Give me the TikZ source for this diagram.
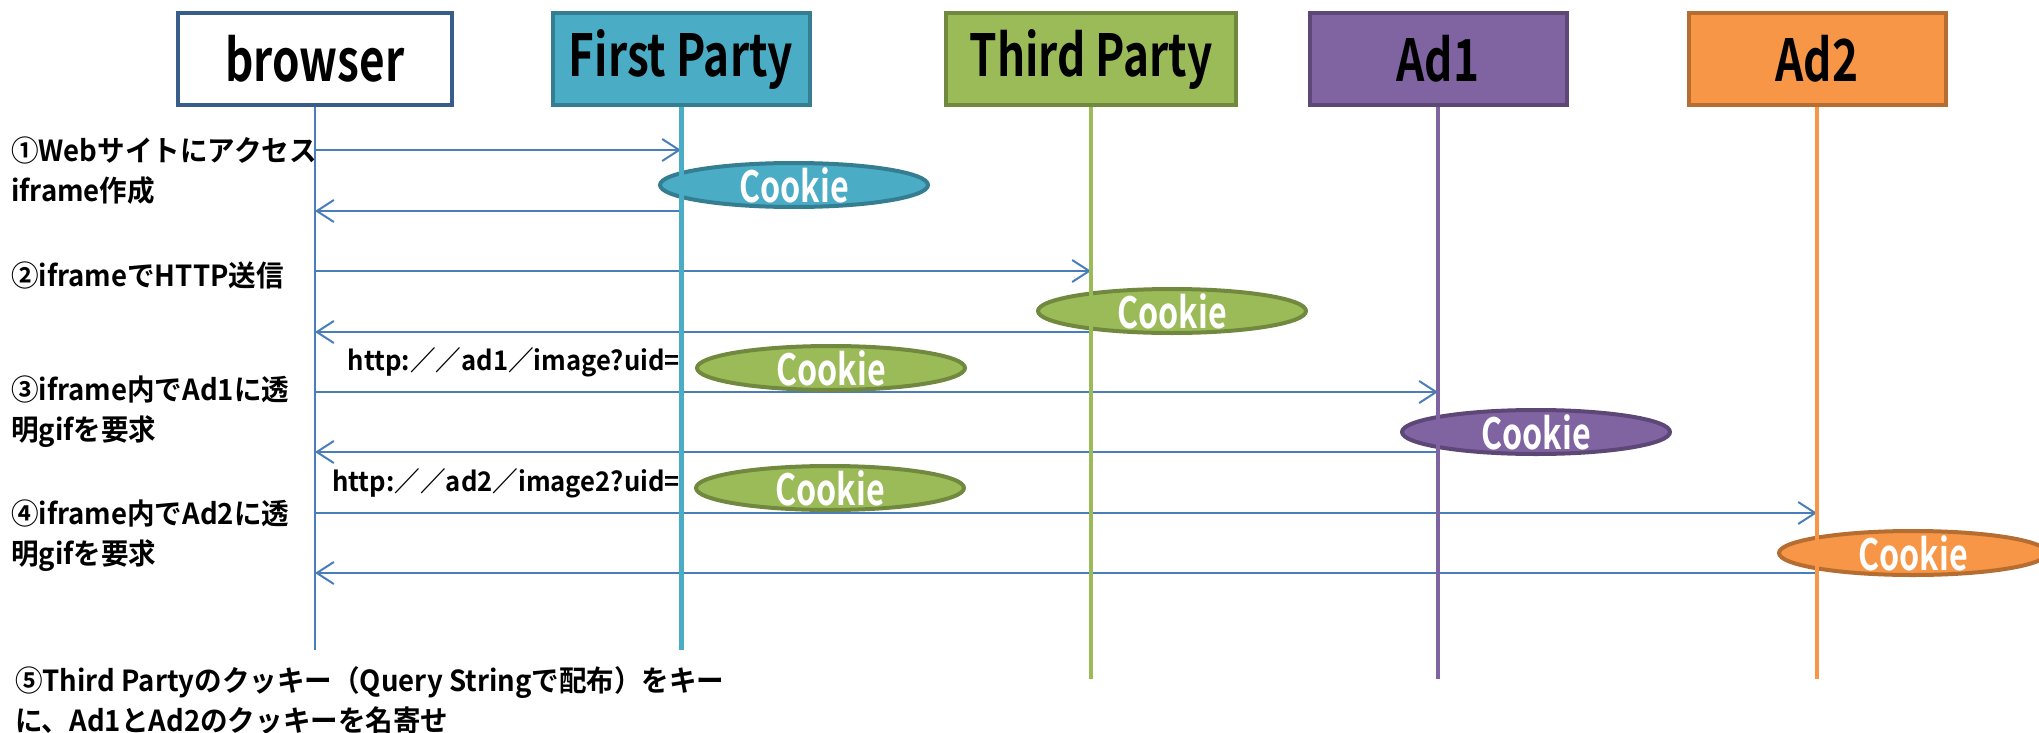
\documentclass[tikz,border=0pt]{standalone}
\usepackage{fontspec}
\setmainfont{Noto Sans CJK JP}
\newfontfamily\jpb{Noto Sans CJK JP Bold}[FakeStretch=0.95]
\newfontfamily\jpc{Noto Sans CJK JP Bold}[FakeStretch=0.76]
\newfontfamily\jpk{Noto Sans CJK JP Bold}[FakeStretch=0.75]
\usetikzlibrary{arrows.meta,shapes.geometric}
\definecolor{brB}{HTML}{385D8A}
\definecolor{msgC}{HTML}{4A7EBB}
\definecolor{fpF}{HTML}{4BACC6}
\definecolor{fpB}{HTML}{357D91}
\definecolor{tpF}{HTML}{9BBB59}
\definecolor{tpB}{HTML}{71893F}
\definecolor{a1F}{HTML}{8064A2}
\definecolor{a1B}{HTML}{5C4776}
\definecolor{a2F}{HTML}{F79646}
\definecolor{a2B}{HTML}{B66D31}
\tikzset{
  hdr/.style={rectangle, line width=4pt, minimum height=92pt, inner sep=0pt,
    font=\jpc\fontsize{58}{60}\selectfont},
  life/.style={line width=4pt},
  msg/.style={draw=msgC, line width=2pt, -{Straight Barb[length=17pt,width=22pt]}},
  cookie/.style={ellipse, line width=4pt, minimum width=268pt, minimum height=44pt, inner sep=0pt},
  cktext/.style={text=white, font=\jpk\fontsize{43}{44}\selectfont, inner sep=0pt},
  lbl/.style={anchor=west, align=left, inner sep=0pt, font=\jpb\fontsize{29}{40}\selectfont},
  url/.style={anchor=east, inner sep=0pt, font=\jpb\fontsize{27}{30}\selectfont},
}
\begin{document}
\begin{tikzpicture}[x=1pt,y=-1pt]
\useasboundingbox (0,0) rectangle (2039,733);
% headers
\node[hdr, fill=white, draw=brB, minimum width=274pt] (br) at (315,59) {browser};
\node[hdr, fill=fpF, draw=fpB, minimum width=257pt] (fp) at (681,59) {First Party};
\node[hdr, fill=tpF, draw=tpB, minimum width=290pt] (tp) at (1091,59) {Third Party};
\node[hdr, fill=a1F, draw=a1B, minimum width=257pt] (a1) at (1438,59) {Ad1};
\node[hdr, fill=a2F, draw=a2B, minimum width=257pt] (a2) at (1817,59) {Ad2};
% lifeline ends
\coordinate (brE) at (315,650);
\coordinate (fpE) at (681,650);
\coordinate (tpE) at (1091,679);
\coordinate (a1E) at (1438,679);
\coordinate (a2E) at (1817,679);
% message points
\coordinate (b1) at (315,150);   \coordinate (f1) at (681,150);
\coordinate (b2) at (315,211);   \coordinate (f2) at (681,211);
\coordinate (b3) at (315,271);   \coordinate (t3) at (1091,271);
\coordinate (b4) at (315,332);   \coordinate (t4) at (1091,332);
\coordinate (b5) at (315,392);   \coordinate (d5) at (1438,392);
\coordinate (b6) at (315,452);   \coordinate (d6) at (1438,452);
\coordinate (b7) at (315,513);   \coordinate (e7) at (1817,513);
\coordinate (b8) at (315,573);   \coordinate (e8) at (1817,573);
% messages
\draw[msg] (b1) -- (f1);
\draw[msg] (f2) -- (b2);
\draw[msg] (b3) -- (t3);
\draw[msg] (t4) -- (b4);
\draw[msg] (b5) -- (d5);
\draw[msg] (d6) -- (b6);
\draw[msg] (b7) -- (e7);
\draw[msg] (e8) -- (b8);
% cookies
\node[cookie, fill=fpF, draw=fpB, label={[cktext]center:Cookie}] (c1) at (794,185) {};
\node[cookie, fill=tpF, draw=tpB, label={[cktext]center:Cookie}] (c2) at (1172,311) {};
\node[cookie, fill=tpF, draw=tpB, label={[cktext]center:Cookie}] (c3) at (831,368) {};
\node[cookie, fill=tpF, draw=tpB, label={[cktext]center:Cookie}] (c4) at (830,488) {};
\node[cookie, fill=a1F, draw=a1B, label={[cktext]center:Cookie}] (c5) at (1536,432) {};
\node[cookie, fill=a2F, draw=a2B, label={[cktext]center:Cookie}] (c6) at (1913,553) {};
% lifelines
\draw[life, draw=msgC, line width=2pt] (br.south) -- (brE);
\draw[life, draw=fpF, line width=5pt] (fp.south) -- (fpE);
\draw[life, draw=tpF] (tp.south) -- (tpE);
\draw[life, draw=a1F] (a1.south) -- (a1E);
\draw[life, draw=a2F] (a2.south) -- (a2E);
% urls
\node[url] (u1) at (680,362) {http:／／ad1／image?uid=};
\node[url] (u2) at (680,483) {http:／／ad2／image2?uid=};
% labels
\node[lbl] (l1) at (11,171) {①Webサイトにアクセス\\iframe作成};
\node[lbl] (l2) at (11,275) {②iframeでHTTP送信};
\node[lbl] (l3) at (11,412) {③iframe内でAd1に透\\明gifを要求};
\node[lbl] (l4) at (11,536) {④iframe内でAd2に透\\明gifを要求};
\node[lbl] (l5) at (15,700) {⑤Third Partyのクッキー（Query Stringで配布）をキー\\に、Ad1とAd2のクッキーを名寄せ};
\end{tikzpicture}
\end{document}
